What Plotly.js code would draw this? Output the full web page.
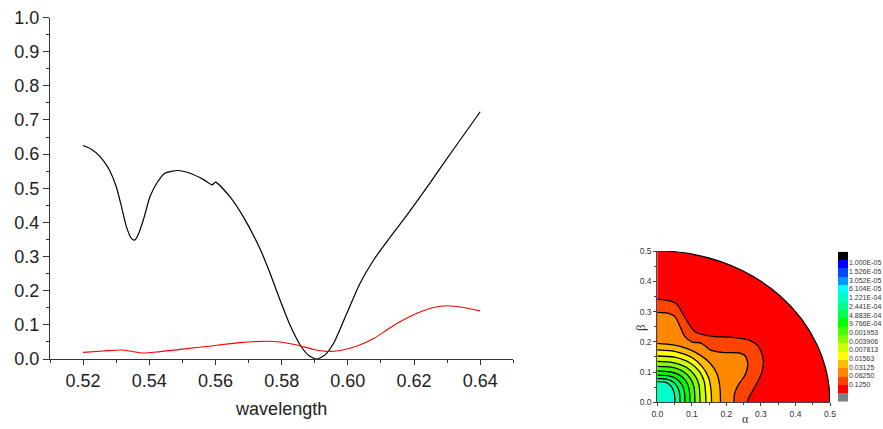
<!DOCTYPE html>
<html>
<head>
<meta charset="utf-8">
<script src="https://cdn.plot.ly/plotly-3.0.1.min.js"></script>
<style>html,body{margin:0;padding:0;background:#fff;}#chart{width:883px;height:429px;}</style>
</head>
<body>
<div id="chart"></div>
<script>
// ---- main chart data ----
const blackWl = [0.520,0.5225,0.525,0.5265,0.528,0.530,0.5316,0.5331,0.5346,0.5356,0.5366,0.5382,0.5402,0.5422,0.5447,0.5487,0.5523,0.5563,0.5590,0.5600,0.5644,0.5684,0.5735,0.5765,0.5795,0.5825,0.5856,0.5882,0.5906,0.5931,0.5957,0.5997,0.6037,0.6078,0.6128,0.6179,0.6250,0.6320,0.6400];
const blackVal = [0.625,0.614,0.594,0.576,0.553,0.505,0.446,0.387,0.353,0.348,0.363,0.407,0.475,0.514,0.544,0.552,0.544,0.526,0.510,0.518,0.475,0.417,0.322,0.251,0.173,0.100,0.041,0.010,0.000,0.012,0.046,0.134,0.222,0.290,0.357,0.422,0.518,0.615,0.724];
const redWl = [0.520,0.526,0.5316,0.5341,0.5382,0.5422,0.5493,0.5594,0.5674,0.5755,0.5795,0.5846,0.5897,0.5937,0.5977,0.6028,0.6078,0.6118,0.6148,0.6209,0.6259,0.6300,0.6350,0.6400];
const redVal = [0.0195,0.0234,0.0264,0.0234,0.0176,0.0205,0.0283,0.039,0.048,0.052,0.050,0.041,0.028,0.0224,0.025,0.038,0.060,0.085,0.104,0.134,0.151,0.156,0.151,0.141];

// ---- inset contour lines (alpha, beta), from outermost to innermost ----
const c11a = [0,0.032,0.056,0.070,0.090,0.109,0.138,0.167,0.215,0.264,0.293,0.307,0.302,0.283,0.264,0.260];
const c11b = [0.341,0.336,0.325,0.300,0.261,0.233,0.222,0.217,0.215,0.206,0.184,0.140,0.096,0.052,0.013,0];
const c10a = [0,0.032,0.051,0.066,0.080,0.100,0.128,0.153,0.186,0.235,0.254,0.262,0.255,0.236,0.224,0.222];
const c10b = [0.297,0.294,0.283,0.250,0.217,0.200,0.195,0.173,0.165,0.163,0.154,0.128,0.092,0.060,0.030,0];
const c9a = [0,0.046,0.085,0.124,0.153,0.172,0.181,0.183];
const c9b = [0.195,0.190,0.178,0.156,0.129,0.096,0.052,0];
const c8a = [0,0.056,0.100,0.130,0.149,0.156,0.157];
const c8b = [0.173,0.167,0.148,0.118,0.080,0.035,0];
const c7a = [0,0.050,0.095,0.122,0.136,0.141];
const c7b = [0.153,0.149,0.130,0.102,0.068,0];
const c6a = [0,0.045,0.085,0.108,0.120,0.124];
const c6b = [0.135,0.131,0.115,0.090,0.060,0];
const c5a = [0,0.040,0.075,0.095,0.106,0.109];
const c5b = [0.119,0.116,0.102,0.080,0.052,0];
const c4a = [0,0.035,0.065,0.083,0.092,0.095];
const c4b = [0.104,0.101,0.090,0.070,0.045,0];
const c3a = [0,0.030,0.055,0.070,0.078,0.080];
const c3b = [0.090,0.088,0.078,0.060,0.038,0];
const c2a = [0,0.025,0.045,0.058,0.064,0.066];
const c2b = [0.078,0.077,0.068,0.052,0.032,0];
const c1a = [0,0.027,0.041,0.049,0.051];
const c1b = [0.068,0.065,0.052,0.030,0];

// colour scale (top to bottom) and its labels
const scaleColors = ['#000000','#0000ff','#0048ff','#0099ff','#00ffff','#00ffc8','#00ff8c','#00ff50','#00ff00','#44ff00','#88ff00','#ccff00','#ffff00','#ffbb00','#ff8800','#ff4400','#ff0000','#808080'];
const scaleLabels = ['1.000E-05','1.526E-05','3.052E-05','6.104E-05','1.221E-04','2.441E-04','4.883E-04','9.766E-04','0.001953','0.003906','0.007813','0.01563','0.03125','0.06250','0.1250'];

// each contour encloses the region with the colour of the band just inside it
const contours = [
  [c11a,c11b,15],[c10a,c10b,14],[c9a,c9b,13],[c8a,c8b,12],[c7a,c7b,11],[c6a,c6b,10],
  [c5a,c5b,9],[c4a,c4b,8],[c3a,c3b,7],[c2a,c2b,6],[c1a,c1b,5]
];

const traces = [];
traces.push({x:blackWl,y:blackVal,type:'scatter',mode:'lines',line:{color:'#000',width:1.2,shape:'spline',smoothing:0.6},xaxis:'x',yaxis:'y',hoverinfo:'skip'});
traces.push({x:redWl,y:redVal,type:'scatter',mode:'lines',line:{color:'#ff0000',width:1.1,shape:'spline',smoothing:0.8},xaxis:'x',yaxis:'y',hoverinfo:'skip'});

contours.forEach(c => {
  traces.push({x:[0].concat(c[0]),y:[0].concat(c[1]),type:'scatter',mode:'lines',fill:'toself',
    fillcolor:scaleColors[c[2]],line:{width:0,color:scaleColors[c[2]]},xaxis:'x2',yaxis:'y2',hoverinfo:'skip'});
});
contours.forEach(c => {
  traces.push({x:c[0],y:c[1],type:'scatter',mode:'lines',line:{color:'#000',width:1.3,shape:'spline',smoothing:0.8},
    xaxis:'x2',yaxis:'y2',hoverinfo:'skip'});
});

// colour scale drawn as a heatmap column
const idx = scaleColors.map((c,i)=>i);
traces.push({type:'heatmap',x:[0],y:idx,z:idx.map(i=>[i]),zmin:0,zmax:scaleColors.length-1,
  colorscale:scaleColors.map((c,i)=>[i/(scaleColors.length-1),c]),showscale:false,xaxis:'x3',yaxis:'y3',hoverinfo:'skip'});

const n = scaleLabels.length;
const tickPos = scaleLabels.map((s,i)=>0.85 + i*(15.45-0.85)/(n-1));

const W = 883, H = 429;
const fx = p => p/W, fy = p => (H-p)/H;
const axFont = {family:'Liberation Sans, Arial, sans-serif',size:18,color:'#222'};
const smFont = {family:'Liberation Sans, Arial, sans-serif',size:8.5,color:'#333'};
const cbFont = {family:'Liberation Sans, Arial, sans-serif',size:7,color:'#333'};

const layout = {
  width:W,height:H,margin:{l:0,r:0,t:0,b:0},paper_bgcolor:'#fff',plot_bgcolor:'rgba(0,0,0,0)',showlegend:false,
  font:{family:'Liberation Sans, Arial, sans-serif'},
  xaxis:{domain:[fx(50),fx(513.3)],anchor:'y',range:[0.51,0.65],tick0:0.52,dtick:0.02,tickformat:'.2f',
    ticks:'outside',ticklen:5,tickcolor:'#333',showline:true,linecolor:'#333',linewidth:1,showgrid:false,zeroline:false,
    minor:{dtick:0.01,ticks:'outside',ticklen:3,tickcolor:'#333',showgrid:false},tickfont:axFont,
    title:{text:'wavelength',font:axFont,standoff:12}},
  yaxis:{domain:[fy(359),fy(17.5)],anchor:'x',range:[0,1],dtick:0.1,tickformat:'.1f',
    ticks:'outside',ticklen:6,tickcolor:'#333',showline:true,linecolor:'#333',linewidth:1,showgrid:false,zeroline:false,
    minor:{dtick:0.05,ticks:'outside',ticklen:3,tickcolor:'#333',showgrid:false},tickfont:axFont},
  xaxis2:{domain:[fx(657.3),fx(830)],anchor:'y2',range:[0,0.5],dtick:0.1,tickformat:'.1f',
    ticks:'outside',ticklen:3,tickcolor:'#444',showline:true,linecolor:'#444',linewidth:1,showgrid:false,zeroline:false,
    minor:{dtick:0.05,ticks:'outside',ticklen:2,tickcolor:'#444',showgrid:false},tickfont:smFont},
  yaxis2:{domain:[fy(402.3),fy(251)],anchor:'x2',range:[0,0.5],dtick:0.1,tickformat:'.1f',
    ticks:'outside',ticklen:3,tickcolor:'#444',showline:true,linecolor:'#444',linewidth:1,showgrid:false,zeroline:false,
    minor:{dtick:0.05,ticks:'outside',ticklen:2,tickcolor:'#444',showgrid:false},tickfont:smFont},
  xaxis3:{domain:[fx(838),fx(848)],anchor:'y3',range:[-0.5,0.5],visible:false,fixedrange:true},
  yaxis3:{domain:[fy(401.7),fy(251.7)],anchor:'x3',side:'right',range:[scaleColors.length-0.5,-0.5],
    tickvals:tickPos,ticktext:scaleLabels,ticks:'',showline:false,showgrid:false,zeroline:false,tickfont:cbFont},
  shapes:[{type:'circle',xref:'x2',yref:'y2',x0:-0.5,x1:0.5,y0:-0.5,y1:0.5,fillcolor:'#ff0000',
    line:{color:'#000',width:1.2},layer:'below'}],
  annotations:[
    {text:'β',xref:'paper',yref:'paper',x:fx(640),y:fy(328),xanchor:'center',yanchor:'middle',showarrow:false,textangle:-90,
      font:{family:'Liberation Serif, Times New Roman, serif',size:13,color:'#333'}},
    {text:'α',xref:'paper',yref:'paper',x:fx(745),y:fy(419),xanchor:'center',yanchor:'middle',showarrow:false,
      font:{family:'Liberation Serif, Times New Roman, serif',size:12,color:'#333'}}
  ]
};

Plotly.newPlot('chart',traces,layout,{staticPlot:true,displayModeBar:false});
</script>
</body>
</html>
